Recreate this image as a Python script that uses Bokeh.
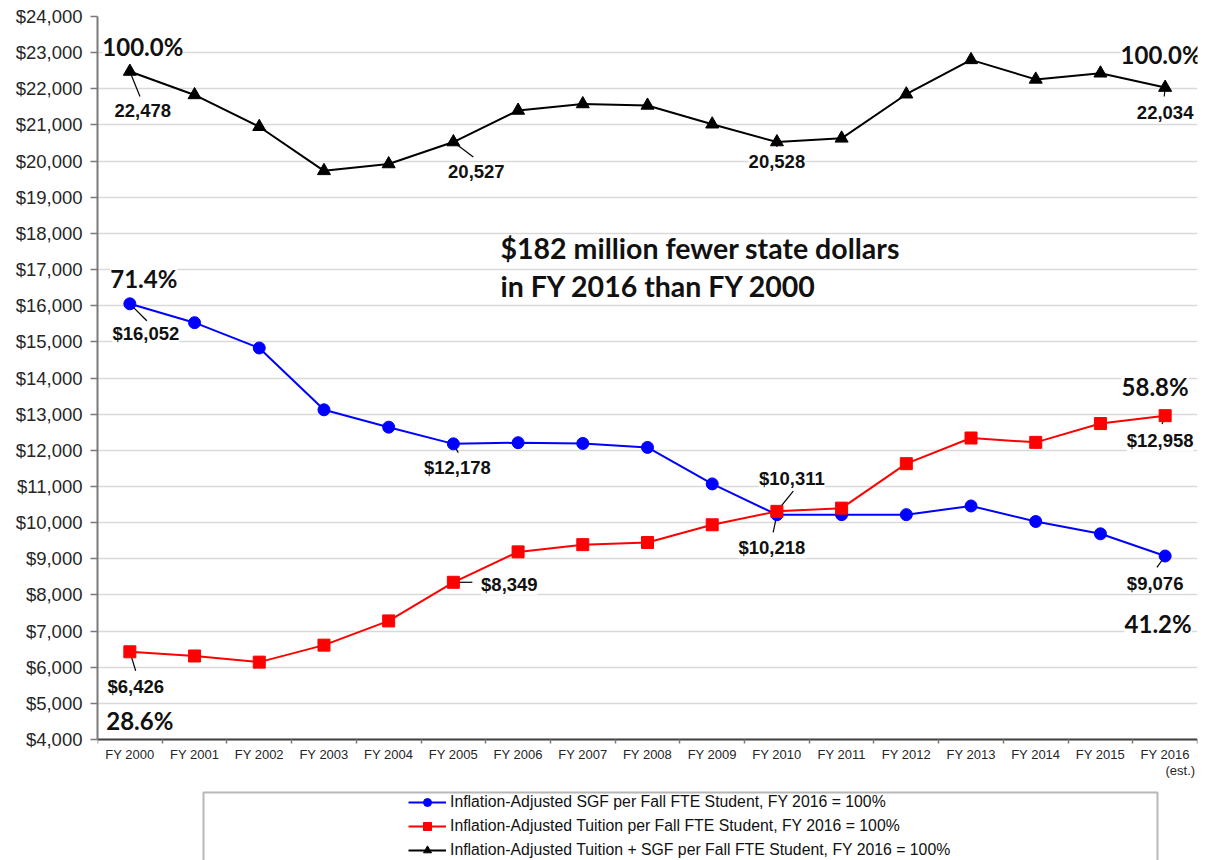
from bokeh.plotting import figure
from bokeh.models import (Range1d, FixedTicker, NumeralTickFormatter, ColumnDataSource,
                          LabelSet, Label, Legend, LegendItem, BoxAnnotation)
from bokeh.core.properties import value
from bokeh.embed import file_html
from bokeh.resources import INLINE

# ---------------- data ----------------
categories = ["FY 2000", "FY 2001", "FY 2002", "FY 2003", "FY 2004", "FY 2005",
              "FY 2006", "FY 2007", "FY 2008", "FY 2009", "FY 2010", "FY 2011",
              "FY 2012", "FY 2013", "FY 2014", "FY 2015", "FY 2016"]
sgf = [16052, 15530, 14830, 13120, 12640, 12178, 12210, 12190, 12080, 11070,
       10218, 10220, 10220, 10460, 10030, 9690, 9076]
tuition = [6426, 6310, 6140, 6610, 7280, 8349, 9190, 9390, 9450, 9940,
           10311, 10400, 11630, 12340, 12220, 12740, 12958]
total = [22478, 21830, 20950, 19730, 19920, 20527, 21400, 21580, 21540, 21020,
         20528, 20630, 21850, 22800, 22260, 22430, 22034]
y_ticks = list(range(4000, 24001, 1000))
legend_labels = [
    "Inflation-Adjusted SGF per Fall FTE Student, FY 2016 = 100%",
    "Inflation-Adjusted Tuition per Fall FTE Student, FY 2016 = 100%",
    "Inflation-Adjusted Tuition + SGF per Fall FTE Student, FY 2016 = 100%",
]
note_lines = ["$182 million fewer state dollars", "in FY 2016 than FY 2000"]
est_note = "(est.)"

n = len(categories)
idx = list(range(n))
series = {"sgf": sgf, "tuition": tuition, "total": total}
prefix = {"sgf": "$", "tuition": "$", "total": ""}

BLUE, RED, BLACK = "#0000ff", "#ff0000", "#000000"

# ---------------- layout geometry ----------------
W, H = 1205, 860
FR_LEFT, FR_RIGHT, FR_TOP, AXIS_Y = 97, 1197, 16, 739      # pixel layout of the chart area
Y_MIN, Y_MAX = y_ticks[0], y_ticks[-1]
per_px = (Y_MAX - Y_MIN) / (AXIS_Y - FR_TOP)
y_start = Y_MIN - (H - AXIS_Y) * per_px                     # frame reaches the page bottom
x_per_px = n / (FR_RIGHT - FR_LEFT)

p = figure(width=W, height=H, x_range=Range1d(-0.5, n - 0.5),
           y_range=Range1d(y_start, Y_MAX),
           output_backend="svg", toolbar_location=None,
           min_border_left=FR_LEFT, min_border_right=W - FR_RIGHT,
           min_border_top=FR_TOP, min_border_bottom=0)
p.outline_line_color = None
p.background_fill_color = "white"
p.border_fill_color = "white"

yt = FixedTicker(ticks=y_ticks)
p.yaxis.ticker = yt
p.ygrid.ticker = yt
p.yaxis.bounds = (Y_MIN, Y_MAX)
p.yaxis.formatter = NumeralTickFormatter(format="$0,0")
p.ygrid.grid_line_color = "#d9d9d9"
p.ygrid.grid_line_width = 1.5
p.xgrid.visible = False

p.yaxis.axis_line_color = "#7a7a7a"
p.yaxis.axis_line_width = 2
p.yaxis.major_tick_line_color = "#7a7a7a"
p.yaxis.major_tick_line_width = 1.5
p.yaxis.major_tick_out = 7
p.yaxis.major_tick_in = 0
p.yaxis.minor_tick_line_color = None
p.yaxis.major_label_standoff = 8
p.yaxis.major_label_text_font = "Liberation Sans"
p.yaxis.major_label_text_font_size = "18.5px"
p.yaxis.major_label_text_color = "#262626"

xt = FixedTicker(ticks=idx, minor_ticks=[i - 0.5 for i in range(n + 1)])
p.xaxis.ticker = xt
p.xaxis.fixed_location = Y_MIN
p.xaxis.major_label_overrides = {i: c for i, c in enumerate(categories)}
p.xaxis.axis_line_color = "#404040"
p.xaxis.axis_line_width = 2
p.xaxis.major_tick_line_color = None
p.xaxis.major_tick_out = 0
p.xaxis.major_tick_in = 0
p.xaxis.minor_tick_line_color = "#7a7a7a"
p.xaxis.minor_tick_line_width = 1.5
p.xaxis.minor_tick_out = 4
p.xaxis.minor_tick_in = 0
p.xaxis.major_label_standoff = 3
p.xaxis.major_label_text_font = "Liberation Sans"
p.xaxis.major_label_text_font_size = "13px"
p.xaxis.major_label_text_color = "#262626"

# callouts anchored at data points (offsets / angles are styling only)
callouts = [
    # series, index, label dx, label dy, leader angle (deg), leader length (px)
    ("total", 0, 13, -39, -68, 27),
    ("total", 5, 23, -29, -37, 25),
    ("total", 10, 0, -19, -90, 5),
    ("total", 16, 0, -25, -96, 9),
    ("sgf", 0, 16, -30, -45, 24),
    ("sgf", 5, 4, -24, -61, 10),
    ("sgf", 10, -5, -33, -102, 18),
    ("sgf", 16, -10, -27, -126, 14),
    ("tuition", 0, 6, -35, -73, 20),
    ("tuition", 5, 56, -2, 0, 19),
    ("tuition", 10, 15, 33, 51, 26),
    ("tuition", 16, -5, -25, -110, 9),
]
csrc = ColumnDataSource(dict(
    x=[c[1] for c in callouts],
    y=[series[c[0]][c[1]] for c in callouts],
    text=[prefix[c[0]] + f"{series[c[0]][c[1]]:,}" for c in callouts],
    dx=[c[2] for c in callouts], dy=[c[3] for c in callouts],
    ang=[c[4] for c in callouts], ln=[c[5] for c in callouts]))
p.ray(x="x", y="y", length="ln", angle="ang", source=csrc, length_units="screen",
      angle_units="deg", line_color="#000000", line_width=1.2)

# series lines and markers
r_tot_l = p.line(idx, total, line_color=BLACK, line_width=2)
r_tot_m = p.scatter(idx, total, marker="triangle", size=13, fill_color=BLACK, line_color=BLACK)
r_sgf_l = p.line(idx, sgf, line_color=BLUE, line_width=2)
r_sgf_m = p.scatter(idx, sgf, marker="circle", size=12, fill_color=BLUE, line_color=BLUE)
r_tui_l = p.line(idx, tuition, line_color=RED, line_width=2)
r_tui_m = p.scatter(idx, tuition, marker="square", size=12, fill_color=RED, line_color=RED)

# value labels
p.add_layout(LabelSet(x="x", y="y", text="text", x_offset="dx", y_offset="dy", source=csrc,
                      text_align="center", text_baseline="middle",
                      text_font=value("Liberation Sans"), text_font_style="bold",
                      text_font_size="18.5px", text_color="#111111",
                      background_fill_color="white"))

# percentage labels
pct = [
    ("total", 0, 13, 25),
    ("total", 16, -4, 33),
    ("sgf", 0, 14, 25),
    ("sgf", 16, -7, -67),
    ("tuition", 0, 10, -69),
    ("tuition", 16, -10, 29),
]
psrc = ColumnDataSource(dict(
    x=[c[1] for c in pct],
    y=[series[c[0]][c[1]] for c in pct],
    text=[f"{series[c[0]][c[1]] / total[c[1]] * 100:.1f}%" for c in pct],
    dx=[c[2] for c in pct], dy=[c[3] for c in pct]))
p.add_layout(LabelSet(x="x", y="y", text="text", x_offset="dx", y_offset="dy", source=psrc,
                      text_align="center", text_baseline="middle",
                      text_font=value("Lato"), text_font_style="bold",
                      text_font_size="24px", text_color="#111111",
                      background_fill_color="white"))

# note text (placed in the chart's open area)
note_x = -0.5 + (500 - FR_LEFT) * x_per_px
for k, line in enumerate(note_lines):
    p.add_layout(Label(x=note_x, y=Y_MAX - (247 + 38 * k - FR_TOP) * per_px, text=line,
                       text_align="left", text_baseline="middle", text_font="Lato",
                       text_font_style="bold", text_font_size="28.5px", text_color="#111111"))

p.add_layout(Label(x=n - 1, y=Y_MIN, x_offset=30, y_offset=-31, text=est_note,
                   text_align="right", text_baseline="middle", text_font="Liberation Sans",
                   text_font_size="13px", text_color="#262626"))

# ---------------- legend (below the axis) ----------------
p.add_layout(BoxAnnotation(left=-0.5 + (203 - FR_LEFT) * x_per_px,
                           right=-0.5 + (1157 - FR_LEFT) * x_per_px,
                           top=Y_MIN - (792 - AXIS_Y) * per_px,
                           bottom=y_start - 20 * per_px,
                           fill_color=None, fill_alpha=0, line_color="#b8b8b8",
                           line_width=2, line_alpha=1, line_dash="solid"))

nanv = [float("nan")]
lb_l = p.line(x=nanv, y=nanv, line_color=BLUE, line_width=2)
lb_m = p.scatter(x=nanv, y=nanv, marker="circle", fill_color=BLUE, line_color=BLUE)
lr_l = p.line(x=nanv, y=nanv, line_color=RED, line_width=2)
lr_m = p.scatter(x=nanv, y=nanv, marker="square", fill_color=RED, line_color=RED)
lk_l = p.line(x=nanv, y=nanv, line_color=BLACK, line_width=2)
lk_m = p.scatter(x=nanv, y=nanv, marker="triangle", fill_color=BLACK, line_color=BLACK)
legend = Legend(items=[LegendItem(label=legend_labels[0], renderers=[lb_l, lb_m]),
                       LegendItem(label=legend_labels[1], renderers=[lr_l, lr_m]),
                       LegendItem(label=legend_labels[2], renderers=[lk_l, lk_m])],
                location=(408 - FR_LEFT, 0), orientation="vertical", padding=0, margin=0,
                spacing=4, glyph_width=38, glyph_height=20, label_height=20,
                label_standoff=4, border_line_color=None, background_fill_alpha=0,
                label_text_font="Liberation Sans", label_text_font_size="15.8px",
                label_text_color="#111111")
p.add_layout(legend)

open("out.html", "w").write(file_html(p, INLINE))
